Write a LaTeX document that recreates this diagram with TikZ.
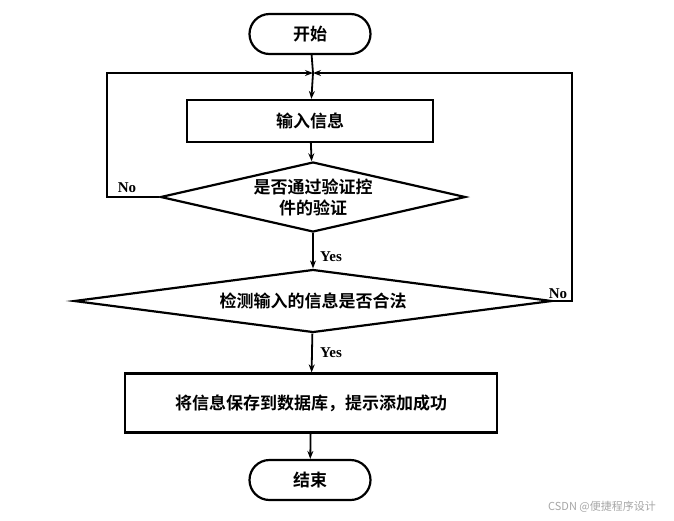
\documentclass[tikz,border=0pt]{standalone}
\usepackage{fontspec}
\setmainfont{Liberation Serif}
\newfontfamily\cjk{Noto Sans CJK SC}[BoldFont={Noto Sans CJK SC Bold}]
\usetikzlibrary{shapes.geometric,arrows.meta}
\begin{document}
\begin{tikzpicture}[x=1pt,y=-1pt,
  base/.style={draw,line width=2.2pt,font=\cjk\bfseries\fontsize{17}{21}\selectfont,align=center},
  term/.style={base,rounded corners=20pt,minimum width=121pt,minimum height=40pt},
  proc/.style={base,minimum height=42pt},
  dec/.style={base,diamond,aspect=4.8,inner sep=0pt},
  lab/.style={font=\bfseries\fontsize{15}{17}\selectfont},
  arr/.style={line width=1.8pt,-{Stealth[length=8pt,width=6pt]}},
  ln/.style={line width=1.8pt}]
\useasboundingbox (0,0) rectangle (674,520);
\node[term] (start) at (310,34) {开始};
\coordinate (m) at (313,73);
\node[proc,minimum width=246pt] (in) at (310,121) {输入信息};
\node[dec,minimum width=305pt,minimum height=70pt] (d1) at (313,197) {是否通过验证控\\件的验证};
\node[dec,minimum width=478pt,minimum height=63pt] (d2) at (313,301) {检测输入的信息是否合法};
\node[proc,minimum width=372pt,minimum height=59pt] (save) at (311,403) {将信息保存到数据库，提示添加成功};
\node[term] (end) at (310,480) {结束};
\coordinate (l1) at (107,197);
\coordinate (l2) at (107,73);
\coordinate (r1) at (572,301);
\coordinate (r2) at (572,73);
\draw[ln] (start) -- (m);
\draw[arr] (m) -- (in);
\draw[arr] (in) -- (d1);
\draw[arr] (d1) -- (d2);
\draw[arr] (d2) -- (save);
\draw[arr] (save) -- (end);
\draw[arr] (d1.west) -- (l1) -- (l2) -- (m);
\draw[arr] (d2.east) -- (r1) -- (r2) -- (m);
\node[lab] at (127,188) {No};
\node[lab] at (558,294) {No};
\node[lab] at (331,257) {Yes};
\node[lab] at (331,353) {Yes};
\node[text=gray!70,font=\cjk\fontsize{11}{12}\selectfont] (wm) at (602,507) {CSDN @便捷程序设计};
\end{tikzpicture}
\end{document}
